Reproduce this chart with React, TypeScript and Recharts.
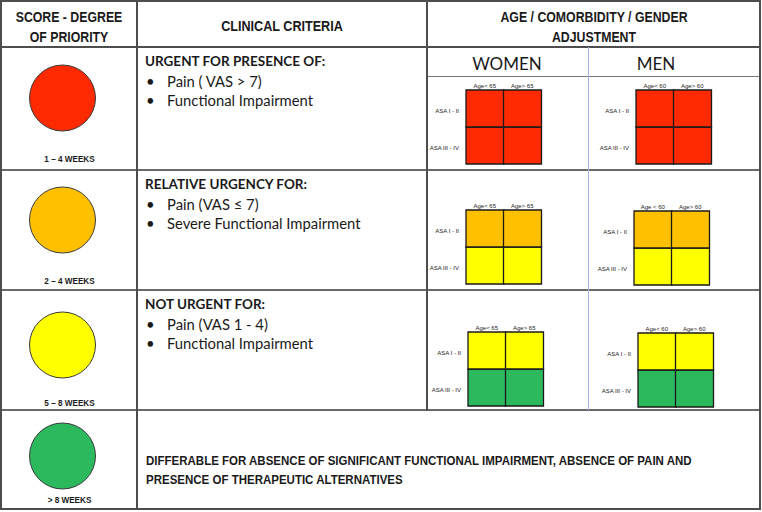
import React from "react";
import { BarChart, Bar, XAxis, YAxis, Cell, ScatterChart, Scatter } from "recharts";

// priority score column
const priorityWeeks = ["1 – 4 WEEKS", "2 – 4 WEEKS", "5 – 8 WEEKS", "> 8 WEEKS"];
const priorityColors = ["#ff2a00", "#ffc000", "#ffff00", "#2cb85c"];
const priorityLevel = ["priority", "priority", "priority", "priority"];

// clinical criteria column
const criteriaTitles = ["URGENT FOR PRESENCE OF:", "RELATIVE URGENCY FOR:", "NOT URGENT FOR:"];
const criteriaItems = [
  ["Pain ( VAS > 7)", "Functional Impairment"],
  ["Pain (VAS ≤ 7)", "Severe Functional Impairment"],
  ["Pain (VAS 1 - 4)", "Functional Impairment"],
];
const deferrableLines = [
  "DIFFERABLE FOR ABSENCE OF SIGNIFICANT FUNCTIONAL IMPAIRMENT, ABSENCE OF PAIN AND",
  "PRESENCE OF THERAPEUTIC ALTERNATIVES",
];

// age / comorbidity / gender grids
const genders = ["WOMEN", "MEN"];
const womenAges = [["Age< 65", "Age> 65"], ["Age< 65", "Age> 65"], ["Age< 65", "Age> 65"]];
const menAges = [["Age< 60", "Age> 60"], ["Age < 60", "Age> 60"], ["Age< 60", "Age> 60"]];
const asaClasses = ["ASA I - II", "ASA III - IV"];
const asaTopColors = ["#ff2a00", "#ffc000", "#ffff00"];
const asaBottomColors = ["#ff2a00", "#ffff00", "#2cb85c"];
const cellShare = [1, 1];

const sans = "'Liberation Sans', Arial, sans-serif";
const body = "Lato, 'Open Sans', sans-serif";

// layout (pixels)
const rowTops = [47, 170, 290, 410];
const circleLayout = [
  { cy: 98, gap: 17 },
  { cy: 220, gap: 17 },
  { cy: 345, gap: 14 },
  { cy: 456, gap: 0 },
];
const gridLayout = [
  [{ x: 466, y: 90 }, { x: 636, y: 90 }],
  [{ x: 466, y: 210 }, { x: 634, y: 211 }],
  [{ x: 468, y: 332 }, { x: 638, y: 333 }],
];
const GW = 75;
const GH = 74;

function Line({ x, y, w, h, color = "#4d4d4d" }: { x: number; y: number; w: number; h: number; color?: string }) {
  return <div style={{ position: "absolute", left: x, top: y, width: w, height: h, background: color }} />;
}

function Label({ x, y, children, style, center, sx = 1 }: any) {
  return (
    <div
      style={{
        position: "absolute",
        left: x,
        top: y,
        transform: (center ? "translate(-50%, -50%)" : "translateY(-50%)") + ` scaleX(${sx})`,
        transformOrigin: center ? "50% 50%" : "0 50%",
        whiteSpace: "nowrap",
        color: "#1a1a1a",
        lineHeight: 1,
        ...style,
      }}
    >
      {children}
    </div>
  );
}

function PriorityCircle({ i }: { i: number }) {
  const { cy, gap } = circleLayout[i];
  const data = [{ weeks: priorityWeeks[i], level: priorityLevel[i] }];
  const color = priorityColors[i];
  return (
    <div style={{ position: "absolute", left: 0, top: cy - 40 }}>
      <ScatterChart width={137} height={120} margin={{ top: 0, right: 12, bottom: 0, left: 0 }}>
        <XAxis
          type="category"
          dataKey="weeks"
          height={40}
          axisLine={false}
          tickLine={false}
          tickSize={0}
          tickMargin={gap}
          interval={0}
          tick={(p: any) => (
            <text
              transform={`translate(${p.x + 7}, ${p.y}) scale(0.86, 1)`}
              textAnchor="middle"
              dy="0.71em"
              fontSize={9.5}
              fontFamily={sans}
              fontWeight={700}
              fill="#1a1a1a"
            >
              {p.payload.value}
            </text>
          )}
        />
        <YAxis type="category" dataKey="level" hide width={0} />
        <Scatter
          data={data}
          isAnimationActive={false}
          shape={(p: any) => <circle cx={p.cx} cy={p.cy} r={33} fill={color} stroke="#3a3a3a" strokeWidth={1} />}
        />
      </ScatterChart>
    </div>
  );
}

function AsaGrid({ row, g }: { row: number; g: number }) {
  const ages = g === 0 ? womenAges[row] : menAges[row];
  const data = ages.map((age, k) => ({ age, low: cellShare[k], high: cellShare[k] }));
  const { x, y } = gridLayout[row][g];
  const yw = 44;
  const xh = 9;
  const tickFont = { fontSize: 6, fontFamily: sans, fill: "#222" };
  return (
    <div style={{ position: "absolute", left: x - yw, top: y - xh }}>
      <BarChart
        width={yw + GW + 2}
        height={xh + GH + 2}
        data={data}
        margin={{ top: 0, right: 2, bottom: 2, left: 0 }}
        barCategoryGap={0}
        barGap={0}
      >
        <XAxis
          dataKey="age"
          orientation="top"
          height={xh}
          axisLine={false}
          tickLine={false}
          tickSize={0}
          tickMargin={2}
          interval={0}
          tick={(p: any) => (
            <text x={p.x} y={p.y} textAnchor="middle" {...tickFont}>
              {p.payload.value}
            </text>
          )}
        />
        <YAxis
          type="number"
          domain={[0, 2]}
          ticks={[0.5, 1.5]}
          width={yw}
          axisLine={false}
          tickLine={false}
          tickSize={0}
          tickMargin={7}
          tick={(p: any) => (
            <text x={p.x} y={p.y + 2} textAnchor="end" dy="0.35em" {...tickFont}>
              {p.payload.value > 1 ? asaClasses[0] : asaClasses[1]}
            </text>
          )}
        />
        <Bar dataKey="low" stackId="asa" stroke="#1a1a1a" strokeWidth={1.3} isAnimationActive={false}>
          {data.map((_, k) => (
            <Cell key={k} fill={asaBottomColors[row]} />
          ))}
        </Bar>
        <Bar dataKey="high" stackId="asa" stroke="#1a1a1a" strokeWidth={1.3} isAnimationActive={false}>
          {data.map((_, k) => (
            <Cell key={k} fill={asaTopColors[row]} />
          ))}
        </Bar>
      </BarChart>
    </div>
  );
}

export default function App() {
  const head = { fontFamily: sans, fontWeight: 700, fontSize: 15 };
  const bold = { fontFamily: body, fontWeight: 700, fontSize: 13.5 };
  const reg = { fontFamily: body, fontSize: 14.8 };
  return (
    <div style={{ position: "fixed", left: 0, top: 0, width: 762, height: 512, background: "#fff", overflow: "hidden" }}>
      {/* table rules */}
      <Line x={0} y={0} w={761} h={1.5} />
      <Line x={0} y={46} w={761} h={2} />
      <Line x={0} y={169} w={761} h={1.5} color="#6a6a6a" />
      <Line x={0} y={289} w={761} h={1.5} color="#6a6a6a" />
      <Line x={0} y={409} w={761} h={1.5} color="#6a6a6a" />
      <Line x={0} y={508} w={761} h={1.5} />
      <Line x={427} y={76} w={334} h={1.2} color="#777" />
      <Line x={0} y={0} w={1.5} h={510} />
      <Line x={136} y={0} w={1.5} h={510} />
      <Line x={426} y={0} w={1.5} h={411} />
      <Line x={759} y={0} w={1.5} h={510} />
      <Line x={588} y={47} w={1} h={363} color="#9fb6e2" />

      {/* header */}
      <Label x={69} y={16} center sx={0.82} style={head}>SCORE - DEGREE</Label>
      <Label x={69} y={36} center sx={0.82} style={head}>OF PRIORITY</Label>
      <Label x={282} y={25} center sx={0.84} style={head}>CLINICAL CRITERIA</Label>
      <Label x={594} y={16} center sx={0.82} style={head}>AGE / COMORBIDITY / GENDER</Label>
      <Label x={594} y={36} center sx={0.82} style={head}>ADJUSTMENT</Label>
      {genders.map((gname, g) => (
        <Label key={gname} x={g === 0 ? 507 : 656} y={63} center style={{ fontFamily: body, fontSize: 17 }}>
          {gname}
        </Label>
      ))}

      {/* priority circles */}
      {priorityWeeks.map((_, i) => (
        <PriorityCircle key={i} i={i} />
      ))}

      {/* clinical criteria */}
      {criteriaTitles.map((title, r) => (
        <React.Fragment key={title}>
          <Label x={145} y={rowTops[r] + 15} style={bold}>{title}</Label>
          {criteriaItems[r].map((item, k) => (
            <React.Fragment key={item}>
              <Label x={146} y={rowTops[r] + 34 + k * 18.5} style={reg}>•</Label>
              <Label x={167} y={rowTops[r] + 34 + k * 18.5} style={reg}>{item}</Label>
            </React.Fragment>
          ))}
        </React.Fragment>
      ))}
      {deferrableLines.map((line, k) => (
        <Label key={k} x={146} y={461 + k * 19} sx={0.92} style={{ fontFamily: sans, fontWeight: 700, fontSize: 12.5 }}>
          {line}
        </Label>
      ))}

      {/* age / ASA grids */}
      {asaTopColors.map((_, r) => (
        <React.Fragment key={r}>
          <AsaGrid row={r} g={0} />
          <AsaGrid row={r} g={1} />
        </React.Fragment>
      ))}
    </div>
  );
}
